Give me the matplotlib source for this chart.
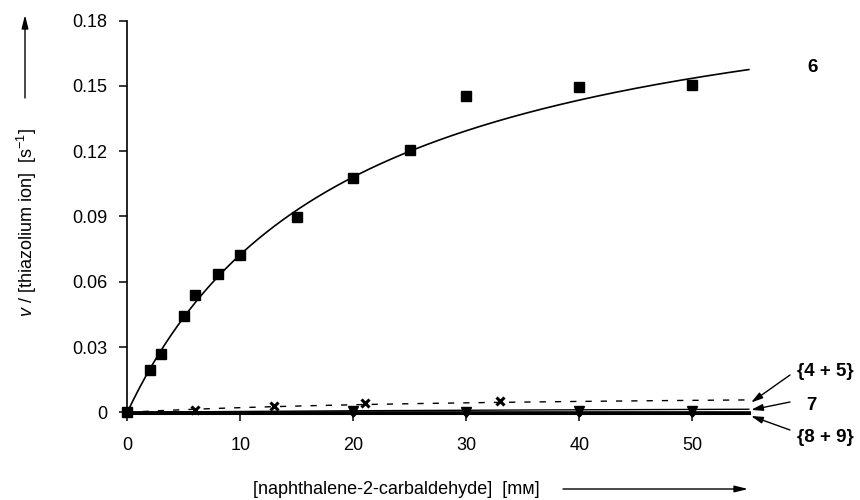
import numpy as np
import matplotlib
matplotlib.use("Agg")
import matplotlib.pyplot as plt

plt.rcParams['font.family'] = ['Liberation Sans', 'DejaVu Sans']
plt.rcParams['mathtext.fontset'] = 'custom'
plt.rcParams['mathtext.rm'] = 'Liberation Sans'
plt.rcParams['mathtext.it'] = 'Liberation Sans:italic'

# ---- data ----
x6 = [0, 2, 3, 5, 6, 8, 10, 15, 20, 25, 30, 40, 50]
y6 = [0, 0.0194, 0.0270, 0.0441, 0.0540, 0.0637, 0.0724, 0.0899, 0.1075, 0.1205, 0.1453, 0.1496, 0.1502]
x45 = [0, 6, 13, 21, 33]
y45 = [0, 0.0012, 0.0029, 0.0044, 0.0053]
x7 = [20, 30, 40, 50]
y7 = [0.0007, 0.0001, 0.0008, 0.0008]
x89 = [20, 30, 40, 50]
y89 = [-0.0004, -0.0004, -0.0004, -0.0004]

# Michaelis-Menten fit parameters
fit6 = (0.213, 19.4)
fit45 = (0.0090, 32.0)
fit7 = (0.00326, 73.0)
fit89 = (0.0, 1.0)

xticks = [0, 10, 20, 30, 40, 50]
yticks = [0, 0.03, 0.06, 0.09, 0.12, 0.15, 0.18]
yticklabels = ['0', '0.03', '0.06', '0.09', '0.12', '0.15', '0.18']

def mm(x, p):
    vmax, km = p
    return vmax * x / (km + x)

xs = np.linspace(0, 55, 300)

fig = plt.figure(figsize=(8.6, 5), dpi=100)
ax = fig.add_axes([0.148, 0.1754, 0.724, 0.7836])

ax.plot(xs, mm(xs, fit6), color='black', lw=1.2, clip_on=False, zorder=3)
ax.plot(x6, y6, 's', color='black', ms=6.5, clip_on=False, zorder=4)

ax.plot(xs, mm(xs, fit45), color='black', lw=1.0, ls=(0, (4.5, 6.5)), clip_on=False, zorder=3)
ax.plot(x45, y45, 'x', color='black', ms=6, mew=2.2, clip_on=False, zorder=4)

ax.plot(xs, mm(xs, fit7), color='black', lw=1.0, clip_on=False, zorder=3)
ax.plot(x7, y7, 'v', color='black', ms=6.5, clip_on=False, zorder=4)

ax.plot(xs, mm(xs, fit89) - 0.0005, color='black', lw=2.2, clip_on=False, zorder=3)
ax.plot(x89, y89, 'D', color='black', ms=3.5, clip_on=False, zorder=4)

ax.set_xlim(0, 55.1)
ax.set_ylim(0, 0.18)
ax.set_xticks(xticks)
ax.set_xticklabels([str(t) for t in xticks])
ax.set_yticks(yticks)
ax.set_yticklabels(yticklabels)
for s in ['top', 'right']:
    ax.spines[s].set_visible(False)
for s in ['left', 'bottom']:
    ax.spines[s].set_linewidth(1.2)
ax.tick_params(axis='x', direction='out', length=6.5, width=1.1, pad=11.5, labelsize=13)
ax.tick_params(axis='y', direction='out', length=5.8, width=1.1, pad=8.6, labelsize=13)

# axis labels with arrows
fig.text(27 / 860, 1 - 223 / 500, r'$v$ / [thiazolium ion]  [s$^{\mathregular{-}1}$]',
         rotation=90, ha='center', va='center', fontsize=13)
fig.text(396.5 / 860, 1 - 489 / 500, '[naphthalene-2-carbaldehyde]  [mᴍ]',
         ha='center', va='center', fontsize=13)

arrow_kw = dict(arrowstyle='-|>,head_length=0.8,head_width=0.2', color='black', lw=1.0,
                shrinkA=0, shrinkB=0)
ax.annotate('', xy=(25 / 860, 1 - 15 / 500), xytext=(25 / 860, 1 - 98 / 500),
            xycoords='figure fraction', textcoords='figure fraction', arrowprops=arrow_kw)
ax.annotate('', xy=(748 / 860, 1 - 489 / 500), xytext=(563 / 860, 1 - 489 / 500),
            xycoords='figure fraction', textcoords='figure fraction', arrowprops=arrow_kw)

# series labels
fig.text(813 / 860, 1 - 67 / 500, '6', ha='center', va='center', fontsize=13.5, fontweight='bold')
fig.text(825 / 860, 1 - 371 / 500, '{4 + 5}', ha='center', va='center', fontsize=13.5, fontweight='bold')
fig.text(811 / 860, 1 - 405 / 500, '7', ha='center', va='center', fontsize=13.5, fontweight='bold')
fig.text(825 / 860, 1 - 437 / 500, '{8 + 9}', ha='center', va='center', fontsize=13.5, fontweight='bold')

ptr_kw = dict(arrowstyle='-|>,head_length=0.7,head_width=0.2', color='black', lw=1.0,
              shrinkA=0, shrinkB=0)
ax.annotate('', xy=(55.2, mm(55, fit45) - 0.0012), xycoords='data',
            xytext=(790 / 860, 1 - 375 / 500), textcoords='figure fraction',
            arrowprops=ptr_kw, annotation_clip=False)
ax.annotate('', xy=(55.2, mm(55, fit7) - 0.0003), xycoords='data',
            xytext=(790 / 860, 1 - 402 / 500), textcoords='figure fraction',
            arrowprops=ptr_kw, annotation_clip=False)
ax.annotate('', xy=(55.2, -0.0017), xycoords='data',
            xytext=(790 / 860, 1 - 430 / 500), textcoords='figure fraction',
            arrowprops=ptr_kw, annotation_clip=False)

fig.savefig('out.png', dpi=100)
